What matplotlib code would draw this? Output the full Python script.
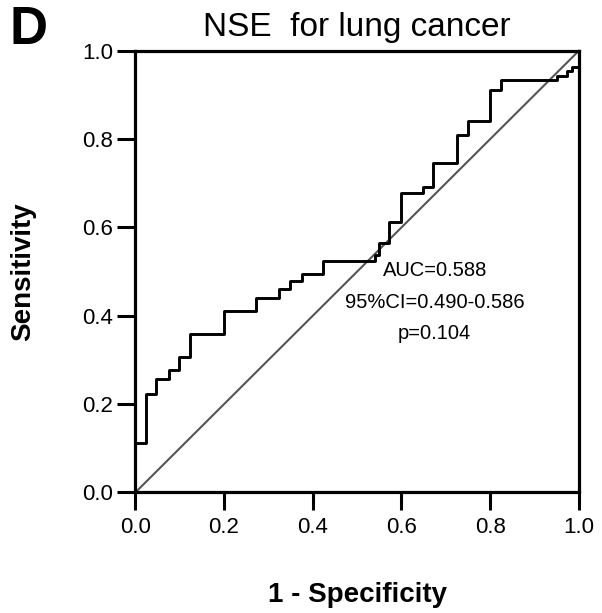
import matplotlib
matplotlib.use("Agg")
import matplotlib.pyplot as plt

plt.rcParams['font.family'] = ['Liberation Sans', 'DejaVu Sans']

# ROC curve points (1 - specificity, sensitivity), tops of each step
fpr = [0, 0, 0.024, 0.047, 0.075, 0.099, 0.123, 0.199, 0.272, 0.323, 0.349, 0.375,
       0.424, 0.541, 0.550, 0.571, 0.598, 0.648, 0.672, 0.725, 0.749, 0.800, 0.824,
       0.950, 0.973, 0.984, 1.0]
tpr = [0, 0.113, 0.224, 0.256, 0.277, 0.307, 0.358, 0.411, 0.441, 0.460, 0.479, 0.494,
       0.524, 0.537, 0.564, 0.613, 0.677, 0.692, 0.746, 0.809, 0.841, 0.911, 0.933,
       0.942, 0.954, 0.963, 1.0]
ref_line = [0, 1]
ticks = [0.0, 0.2, 0.4, 0.6, 0.8, 1.0]
tick_labels = ["0.0", "0.2", "0.4", "0.6", "0.8", "1.0"]
stats = ["AUC=0.588", "95%CI=0.490-0.586", "p=0.104"]

fig = plt.figure(figsize=(6.02, 6.13), dpi=100)
ax = fig.add_axes([0.2248, 0.1966, 0.7367, 0.7205])

ax.plot(ref_line, ref_line, color='#555555', lw=1.5, clip_on=False, zorder=2)
ax.plot(fpr, tpr, drawstyle='steps-post', color='black', lw=2.1, clip_on=False, zorder=3)

ax.set_xlim(0, 1)
ax.set_ylim(0, 1)
ax.set_xticks(ticks)
ax.set_xticklabels(tick_labels)
ax.set_yticks(ticks)
ax.set_yticklabels(tick_labels)
for s in ax.spines.values():
    s.set_linewidth(2.3)
ax.tick_params(axis='both', direction='out', length=13, width=2.2, labelsize=16)
ax.tick_params(axis='x', pad=5)
ax.tick_params(axis='y', pad=3)

ax.set_xlabel("1 - Specificity", fontsize=20, fontweight='bold', labelpad=31)
ax.set_ylabel("Sensitivity", fontsize=20, fontweight='bold', labelpad=33)
ax.set_title("NSE  for lung cancer", fontsize=24, pad=11)

ys = [0.503, 0.431, 0.359]
for txt, yy in zip(stats, ys):
    ax.text(0.675, yy, txt, fontsize=14.5, ha='center', va='center')

fig.text(0.015, 0.992, "D", fontsize=38, fontweight='bold', ha='left', va='top')

fig.savefig("out.png", dpi=100)
